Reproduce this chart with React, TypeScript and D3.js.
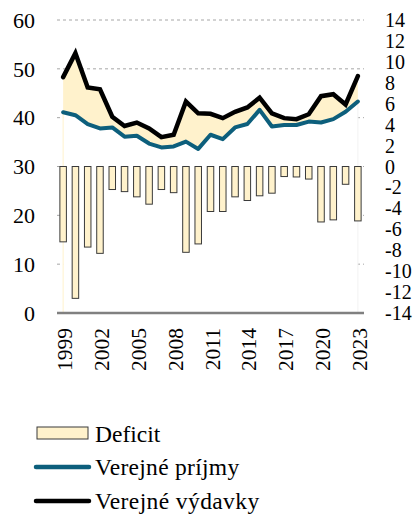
import React from "react";
import * as d3 from "d3";

const years = [1999, 2000, 2001, 2002, 2003, 2004, 2005, 2006, 2007, 2008, 2009, 2010, 2011, 2012, 2013, 2014, 2015, 2016, 2017, 2018, 2019, 2020, 2021, 2022, 2023];
const revenue = [41.1, 40.5, 38.7, 37.8, 38.0, 36.1, 36.3, 34.7, 33.9, 34.1, 35.1, 33.6, 36.5, 35.6, 38.0, 38.7, 41.6, 38.2, 38.5, 38.5, 39.2, 39.0, 39.7, 41.2, 43.3];
const expenditure = [48.3, 53.2, 46.2, 45.8, 40.2, 38.3, 39.0, 37.8, 36.0, 36.5, 43.3, 40.9, 40.8, 39.9, 41.2, 42.1, 44.1, 40.9, 39.9, 39.7, 40.7, 44.4, 44.8, 42.7, 48.5];
const deficit = [-7.2, -12.6, -7.7, -8.3, -2.2, -2.4, -2.9, -3.6, -2.2, -2.5, -8.2, -7.4, -4.3, -4.3, -2.9, -3.25, -2.8, -2.55, -0.96, -1.0, -1.2, -5.3, -5.1, -1.7, -5.2];
const leftTicks = [0, 10, 20, 30, 40, 50, 60];
const rightTicks = [-14, -12, -10, -8, -6, -4, -2, 0, 2, 4, 6, 8, 10, 12, 14];
const labelYears = [1999, 2002, 2005, 2008, 2011, 2014, 2017, 2020, 2023];
const legendLabels = ["Deficit", "Verejné príjmy", "Verejné výdavky"];

const W = 418, H = 515;
const CREAM = "#FFF2CC";
const BLUE = "#0D5F7C";
const FONT = '"Liberation Serif", "Times New Roman", Times, serif';

export default function App() {
  const x = d3.scaleBand<number>().domain(years).range([57, 364]).paddingInner(0).paddingOuter(0);
  const cx = (yr: number) => (x(yr) as number) + x.bandwidth() / 2;
  const yL = d3.scaleLinear().domain([0, 60]).range([313, 20]);
  const yR = d3.scaleLinear().domain([-14, 14]).range([313, 20]);
  const barW = x.bandwidth() * 0.53;

  const rows = years.map((yr, i) => ({ yr, r: revenue[i], e: expenditure[i], d: deficit[i] }));
  const area = d3.area<any>().x((d) => cx(d.yr)).y0((d) => yL(d.r)).y1((d) => yL(d.e));
  const lineR = d3.line<any>().x((d) => cx(d.yr)).y((d) => yL(d.r));
  const lineE = d3.line<any>().x((d) => cx(d.yr)).y((d) => yL(d.e));

  const x0 = cx(years[0]);
  const xN = cx(years[years.length - 1]);
  const ts = { fontFamily: FONT };

  return (
    <svg width={W} height={H} style={{ position: "absolute", left: 0, top: 0, background: "#fff", fontFamily: FONT }}>
      {leftTicks.filter((t) => t > 0).map((t) => (
        <line key={t} x1={57} x2={364} y1={yL(t)} y2={yL(t)} stroke="#a6a6a6" strokeWidth={1} strokeDasharray="3,3" />
      ))}
      <rect x={x0} y={yL(40) - 2} width={xN - x0} height={yL(0) - yL(40) + 2} fill="#fff" />
      <line x1={x0} x2={x0} y1={yL(revenue[0])} y2={yL(0)} stroke={CREAM} strokeWidth={1} />
      <line x1={xN} x2={xN} y1={yL(revenue[revenue.length - 1])} y2={yL(0)} stroke="#f2f2f2" strokeWidth={1} />

      <path d={area(rows) as string} fill={CREAM} />

      {rows.map((d) => (
        <rect key={d.yr} x={cx(d.yr) - barW / 2} y={yR(0)} width={barW} height={yR(d.d) - yR(0)} fill={CREAM} stroke="#3a3a3a" strokeWidth={1} />
      ))}

      <path d={lineR(rows) as string} fill="none" stroke={BLUE} strokeWidth={4} strokeLinejoin="round" strokeLinecap="round" />
      <path d={lineE(rows) as string} fill="none" stroke="#000" strokeWidth={4.5} strokeLinejoin="miter" strokeLinecap="round" />

      <line x1={57} x2={364} y1={yL(0)} y2={yL(0)} stroke="#808080" strokeWidth={2.5} />

      {leftTicks.map((t) => (
        <text key={t} x={35} y={yL(t)} dy="0.35em" textAnchor="end" style={ts} fontSize={22} fill="#000">{t}</text>
      ))}
      {rightTicks.map((t) => (
        <text key={t} x={385} y={yR(t)} dy="0.35em" textAnchor="start" style={ts} fontSize={20} fill="#000">{t}</text>
      ))}
      {labelYears.map((yr) => (
        <text key={yr} transform={`translate(${cx(yr) + 1.5},${328}) rotate(-90)`} dy="0.35em" textAnchor="end" style={ts} fontSize={21.5} fill="#000">{yr}</text>
      ))}

      <rect x={37} y={427} width={51} height={12} fill={CREAM} stroke="#3a3a3a" strokeWidth={1} />
      <text x={95} y={442} style={ts} fontSize={23.5} fill="#000">{legendLabels[0]}</text>
      <line x1={36} x2={89} y1={467} y2={467} stroke={BLUE} strokeWidth={4.5} strokeLinecap="round" />
      <text x={95} y={475} style={ts} fontSize={23.5} fill="#000" letterSpacing={0.3}>{legendLabels[1]}</text>
      <line x1={36} x2={89} y1={501} y2={501} stroke="#000" strokeWidth={4.5} strokeLinecap="round" />
      <text x={95} y={509} style={ts} fontSize={23.5} fill="#000" letterSpacing={0.4}>{legendLabels[2]}</text>
    </svg>
  );
}
